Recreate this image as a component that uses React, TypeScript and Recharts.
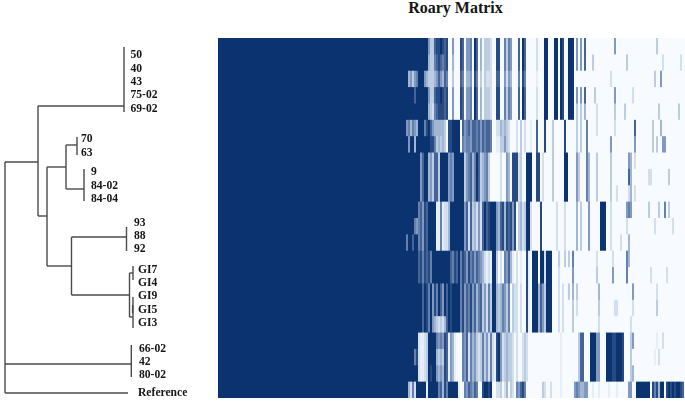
import React from "react";
import { BarChart, Bar, XAxis, YAxis, ScatterChart, Scatter } from "recharts";

// ---- Heatmap values: "startColumn:intensityDigits", later segments override earlier ones
const COLUMN_COUNT = 143;
const CORE_WIDTH = 91;

const band0 = "0:99999999999999 14:533 17:7889878 26:5 30:87 33:556 37:97 40:4 42:3332 48:88 52:6365 59:7 61:97 68:2 72:99 77:99 80:98 84:999 88:5 90:5 92:7";
const band5 = "0:999 3:5 4:6 5:4 6:6 7:5 8:4 9:9 10:99 12:68 14:975 17:44444 22:3 24:88 26:999 29:9 31:7567 35:5 36:77 38:67 40:5 41:76 43:776 48:22 50:434 53:32 58:2 60:3 62:2 65:1 68:7 72:8 76:3 82:8 88:3 90:3 93:6";
const band7 = "0:9999999999 10:5 11:7 12:99 14:4 15:5 16:3 17:77 19:3 20:9999 24:5 25:6 26:5 27:9 28:9999 32:3 33:567 36:4 37:6 38:97 40:3 41:4563 50:2 53:54 56:888 59:2 60:3 63:99 65:9 68:88 71:2 76:3 82:99 88:5 89:3 93:64 98:3 105:3 114:5 115:4";
const band10 = "0:999999999 9:6 10:7 11:5 12:8 13:7 14:9999 18:1 19:1 20:6 21:1 22:22 24:4 25:9999999 32:5 33:727 36:3 37:4 38:2 39:5 40:2 41:7 42:9 43:7 44:8 45:9 46:99 48:5 49:4 50:7 51:8 52:4 53:8 54:7 55:8 56:5 57:8 59:3 60:4 61:2 62:3 63:99 65:2 70:8 78:2 82:2 88:4 90:3 94:5 100:999 105:2";
const band13 = "0:999999999 9:7 10:8 11:6 12:8 13:7 14:8 15:6 16:9 17:99999999 25:7 26:6 27:8 28:7 29:9 30:6 31:8 32:7 33:5 34:8 35:6 36:7 37:5 38:7 39:6 40:5 41:4 42:2 43:1 44:2 45:1 46:99 48:3 50:2 52:6 53:5 54:7 55:4 56:1 58:2 60:1 63:8 64:1 66:999 70:99 72:2 73:999";
const band15 = "0:9999999999 10:9 11:7 12:9 13:8 14:6 15:9 16:5 17:8 18:6 19:9 20:7 21:5 22:9 23:7 24:9 25:8 26:9 27:9 28:9 29:9 30:6 31:8 32:5 33:7 34:6 35:8 36:5 37:7 38:4 39:6 40:7 41:3 42:5 43:2 44:6 45:3 46:99 48:4 49:3 50:4 51:6 52:5 53:3 54:6 56:3 57:2 58:2 60:2 63:8 64:1 66:999 69:4 70:7 71:5 72:3 73:999 79:2 81:2";
const band18 = "0:999999999 9:2 10:1 11:1 12:2 13:3 14:9999 18:6565 22:87 24:1 25:5 26:4 27:1 31:657 34:2 35:6 36:4 37:5 38:3 39:2 40:3 41:6 42:3 43:5 44:2 45:6 46:2 47:1 48:89 50:5 51:2 52:3 53:4 54:3 55:3 56:2 58:2 61:2 62:3 63:2 80:1 89:3 90:77 95:999 98:55 103:999889998";

const rowSpecs = [
  `${band0} 107:5 128:3`,
  `${band0} 14:433 17:6787678 26:4 96:3 113:3 131:2 140:2`,
  `${band0} 3:9453569 10:99 12:54 14:333 17:4575476 26:3 30:76 33:445 37:86 40:3 42:3222 48:77 52:5254 59:6 61:86 68:1 88:0 90:0 92:0 105:2 127:3 130:5`,
  `${band0} 7:7 97:3 107:5 116:2`,
  `${band0} 14:432 17:6788878 88:3 90:3 92:4 98:2 107:3 112:3 129:3 139:3`,
  `${band5} 98:2 107:2 117:7 126:3 130:4`,
  `${band5} 3:9 4:5 5:9 6:9 7:4 8:9 12:99 15:886 18:3434 31:6566 48:11 50:33 52:5 53:3 105:5 117:5 126:3 128:3 131:55`,
  `${band7} 117:2`,
  `${band7} 114:7 124:22 134:3`,
  `${band7} 108:2 114:2 117:2`,
  `${band10} 113:565 124:3 129:3 132:6 134:3`,
  `${band10} 7:6 8:5 113:2 127:2 136:2`,
  `${band10} 3:6 6:7 110:2 114:4`,
  `${band13} 79:3 82:3 84:3 86:6 98:2 106:2 113:6 114:4`,
  `${band13} 79:2 86:5 98:3 106:5 113:6 125:2 133:2`,
  `${band15} 84:3 86:4 88:3 99:4 116:5 128:2`,
  `${band15} 7:9 86:3 88:2 99:3 107:2 108:2 116:2 128:3`,
  `${band15} 17:4 18:3 19:2 20:3 21:2 22:4 23:7 86:3 99:2 115:2`,
  `${band18} 115:35 128:1 131:2`,
  `${band18} 7:6 8:8 18:4343 115:3 127:1 129:2`,
  `${band18} 15:8 18:5454 115:3 116:4`,
  "0:9999 4:4 5:2 6:6 7:2 8:99999 13:1 14:99999 19:6 20:7 21:4 22:8 23:6 24:99999 29:1 32:65 34:7 35:6 36:5 37:7 38:6 41:89989 48:2 49:2 50:3 52:2 53:4 55:3 56:2 58:6 59:5 60:7 61:8 62:6 71:3 72:2 75:2 80:1 87:5654 91:4 92:5 93:5 96:1 99:1 104:1 108:1 114:55 118:9999999 126:8 127:6 128:8 129:4 130:99 133:8 134:9 135:8 136:9 137:8 138:9 139:9 140:8 141:7",
];

const rowNames = ["50","40","43","75-02","69-02","70","63","9","84-02","84-04","93","88","92","GI7","GI4","GI9","GI5","GI3","66-02","42","80-02","Reference"];

const shades = ["#f7fbff","#e6eef7","#d3dfee","#bccde2","#a0b6d4","#8199c2","#6480ad","#456396","#264a82","#0a3370"];

// ---- Dendrogram values: branch ends as [distance, position, distance, position]
const branches = [
  [5,162,5,393],[5,393,128,393],[5,364,131,364],[131.3,345,131.3,377],
  [5,162,38,162],[38,106,38,216],[38,106,124,106],[124,47,124,112],
  [38,216,47,216],[47,167,47,266],[47,167,66,167],[66,145,66,189],
  [66,145,77,145],[77,137,77,155],[66,189,84,189],[84,169,84,201],
  [47,266,71.5,266],[71.5,237,71.5,295],[71.5,237,126.5,237],[126.5,227,126.5,251],
  [71.5,295,129.5,295],[129.5,273,129.5,317],[129.5,273,133,273],[129.5,317,133,317],
  [133,266,133,280],[133,297,133,328],[132.6,305,132.6,313],
];

const leafX = [130.5,130.5,130.5,130.5,130.5,81,81,91,91,91,134,134,134,138,138,138,138,138,139,139,139,138];
const leafY = [54,68,81,94,108,138,152,171,185,198,222,235,248,269,282,295,309,322,348,361,374,392.5];

const columns = Array.from({ length: COLUMN_COUNT }, (_, i) => i);

function parseRow(spec: string): number[] {
  const out = new Array(COLUMN_COUNT).fill(0);
  spec.split(" ").forEach((seg) => {
    const [start, digits] = seg.split(":");
    [...digits].forEach((ch, k) => {
      out[Number(start) + k] = Number(ch);
    });
  });
  return out;
}

const parsedRows = rowSpecs.map(parseRow);

const heatData = rowNames.map((name) => {
  const row: Record<string, number | string> = { name, core: CORE_WIDTH };
  columns.forEach((c) => {
    row[`c${c}`] = 1;
  });
  return row;
});

const leaves = rowNames.map((name, i) => ({ name, x: leafX[i], y: leafY[i] }));

const noMark = () => null;
const leafLabel = (props: any) => (
  <text
    x={props.cx}
    y={props.cy}
    dominantBaseline="central"
    fontFamily="'Liberation Serif', serif"
    fontWeight="bold"
    fontSize={11.6}
    fill="#151515"
  >
    {props.payload.name}
  </text>
);

// Recharts floors the band size, so each cell is stretched across the small gap to the next row.
const heatCell = (c: number) => (props: any) => {
  const rowIndex = rowNames.indexOf(props.payload?.name ?? props.name);
  const last = rowIndex === rowNames.length - 1;
  return (
    <rect
      x={props.x}
      y={props.y}
      width={props.width}
      height={props.height + (last ? 0.4 : 1.5)}
      fill={c < 0 ? shades[9] : shades[parsedRows[rowIndex][c]]}
    />
  );
};

export default function App() {
  return (
    <div style={{ position: "absolute", left: 0, top: 0, width: 685, height: 409, overflow: "hidden", background: "#fff" }}>
      <div
        style={{
          position: "absolute",
          left: 355.5,
          width: 200,
          top: 0,
          textAlign: "center",
          fontFamily: "'Liberation Serif', serif",
          fontWeight: "bold",
          fontSize: 16,
          lineHeight: "16px",
          color: "#151515",
        }}
      >
        Roary Matrix
      </div>

      <div style={{ position: "absolute", left: 0, top: 0, filter: "blur(0.35px)" }}>
        <ScatterChart width={685} height={409} margin={{ top: 0, right: 0, bottom: 0, left: 0 }}>
          <XAxis type="number" dataKey="x" domain={[0, 685]} hide />
          <YAxis type="number" dataKey="y" domain={[0, 409]} reversed hide />
          {branches.map((b, i) => (
            <Scatter
              key={i}
              data={[{ x: b[0], y: b[1] }, { x: b[2], y: b[3] }]}
              line={{ stroke: "#4a4a4a", strokeWidth: 1.4 }}
              shape={noMark}
              isAnimationActive={false}
            />
          ))}
          <Scatter data={leaves} shape={leafLabel} isAnimationActive={false} />
        </ScatterChart>
      </div>

      <div style={{ position: "absolute", left: 218, top: 38, filter: "blur(0.5px)" }}>
        <BarChart
          width={468}
          height={360}
          layout="vertical"
          data={heatData}
          margin={{ top: 0, right: 0, bottom: 0, left: 0 }}
          barCategoryGap={0}
          barGap={0}
        >
          <XAxis type="number" domain={[0, CORE_WIDTH + COLUMN_COUNT]} hide />
          <YAxis type="category" dataKey="name" hide />
          <Bar dataKey="core" stackId="m" shape={heatCell(-1)} isAnimationActive={false} />
          {columns.map((c) => (
            <Bar key={c} dataKey={`c${c}`} stackId="m" shape={heatCell(c)} isAnimationActive={false} />
          ))}
        </BarChart>
      </div>
    </div>
  );
}
